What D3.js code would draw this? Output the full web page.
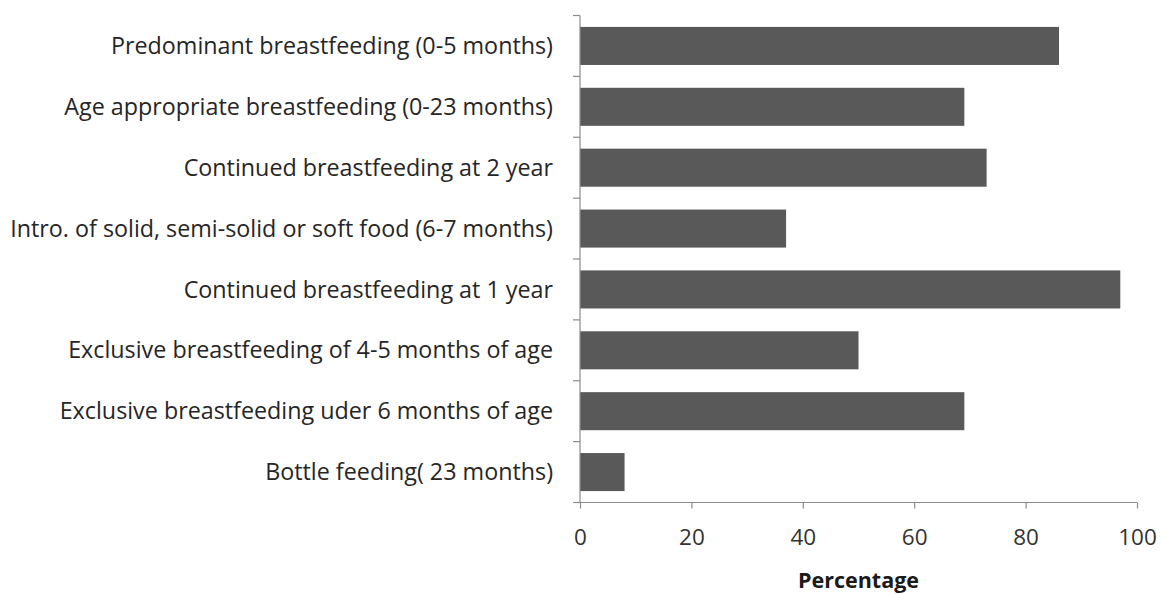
<!DOCTYPE html>
<html>
<head>
<meta charset="utf-8">
<script src="https://cdn.jsdelivr.net/npm/d3@7/dist/d3.min.js"></script>
<style>
  html, body { margin: 0; padding: 0; background: #ffffff; }
  svg { display: block; }
  text { font-family: "Open Sans", "Lato", sans-serif; }
</style>
</head>
<body>
<svg id="chart" width="1161" height="595"></svg>
<script>
const categories = [
  "Predominant breastfeeding (0-5 months)",
  "Age appropriate breastfeeding (0-23 months)",
  "Continued breastfeeding at 2 year",
  "Intro. of solid, semi-solid or soft food (6-7 months)",
  "Continued breastfeeding at 1 year",
  "Exclusive breastfeeding of 4-5 months of age",
  "Exclusive breastfeeding uder 6 months of age",
  "Bottle feeding( 23 months)"
];
const values = [86, 69, 73, 37, 97, 50, 69, 8];
const xTicks = [0, 20, 40, 60, 80, 100];
const xTitle = "Percentage";

const svg = d3.select("#chart");
const mLeft = 580, mRight = 1137, mTop = 15.5, mBottom = 502.5;
const FONT = "'Open Sans', Lato, sans-serif";

const x = d3.scaleLinear().domain([0, 100]).range([mLeft, mRight]);
const y = d3.scaleBand().domain(categories).range([mTop, mBottom])
  .paddingInner(0.375).paddingOuter(0.1875);

// bars
svg.append("g").selectAll("rect")
  .data(categories)
  .join("rect")
  .attr("x", x(0))
  .attr("y", d => y(d))
  .attr("width", (d, i) => x(values[i]) - x(0))
  .attr("height", y.bandwidth())
  .attr("fill", "#595959");

// x axis
const xAxis = svg.append("g")
  .attr("transform", `translate(0,${mBottom})`)
  .call(d3.axisBottom(x).tickValues(xTicks).tickSize(6).tickSizeOuter(0).tickPadding(21));
xAxis.select(".domain").attr("stroke", "#8c8c8c").attr("stroke-width", 1.2)
  .attr("d", `M${mLeft - 7},0H${mRight}`);
xAxis.selectAll(".tick line").attr("stroke", "#8c8c8c").attr("stroke-width", 1.2);
xAxis.selectAll(".tick text")
  .attr("fill", "#333333")
  .style("font-size", "22.5px")
  .style("font-family", FONT);

// y axis (band boundaries as ticks, like Excel)
const yAxis = svg.append("g").attr("transform", `translate(${mLeft},0)`);
yAxis.append("line")
  .attr("x1", 0).attr("x2", 0)
  .attr("y1", mTop).attr("y2", mBottom)
  .attr("stroke", "#8c8c8c").attr("stroke-width", 1.2);
const step = y.step();
const boundaries = d3.range(categories.length + 1).map(i => mTop + i * step);
yAxis.selectAll("line.bt")
  .data(boundaries)
  .join("line")
  .attr("class", "bt")
  .attr("x1", -7).attr("x2", 0)
  .attr("y1", d => d).attr("y2", d => d)
  .attr("stroke", "#8c8c8c").attr("stroke-width", 1.2);
yAxis.selectAll("text")
  .data(categories)
  .join("text")
  .attr("x", -27)
  .attr("y", d => y(d) + y.bandwidth() / 2)
  .attr("dy", "0.35em")
  .attr("text-anchor", "end")
  .attr("fill", "#262626")
  .style("font-size", "23.3px")
  .style("font-family", FONT)
  .text(d => d);

// x title
svg.append("text")
  .attr("x", (mLeft + mRight) / 2)
  .attr("y", 588)
  .attr("text-anchor", "middle")
  .attr("fill", "#1a1a1a")
  .style("font-size", "21.5px")
  .style("font-weight", "bold")
  .style("font-family", FONT)
  .text(xTitle);
</script>
</body>
</html>
